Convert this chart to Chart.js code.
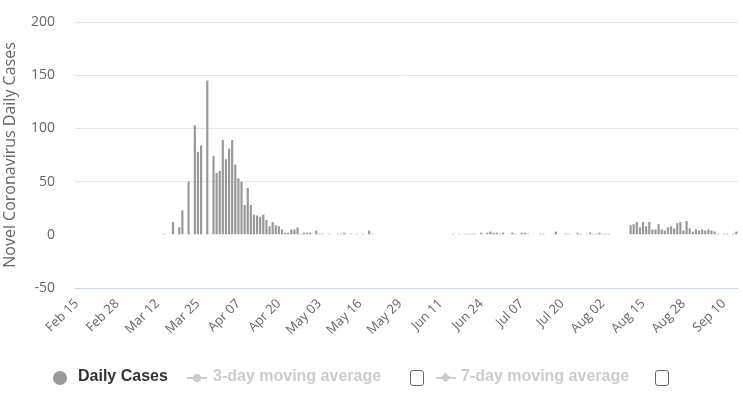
<!DOCTYPE html>
<html>
<head>
<meta charset="utf-8">
<script src="https://cdn.jsdelivr.net/npm/chart.js@4.4.0/dist/chart.umd.min.js"></script>
<style>
    html, body { margin: 0; padding: 0; background: #fff; }
    #wrap { position: relative; width: 743px; height: 399px; overflow: hidden; }
    #chart { position: absolute; left: 0; top: 0; }
    .lg { position: absolute; top: 367px; height: 22px; line-height: 22px; white-space: nowrap;
          font: bold 16px "Liberation Sans", Arial, sans-serif; }
    .lg.on { color: #333333; }
    .lg.off { color: #cccccc; }
    .dot { position: absolute; left: 53px; top: 371px; width: 14px; height: 14px; border-radius: 50%; background: #999999; }
    .line { position: absolute; top: 377px; height: 2px; background: #cccccc; }
    .circ { position: absolute; top: 374px; width: 8px; height: 8px; border-radius: 50%; background: #cccccc; }
    .diam { position: absolute; top: 374px; width: 7px; height: 7px; background: #cccccc; transform: rotate(45deg); }
    .box { position: absolute; top: 370px; width: 12px; height: 14px; border: 1px solid #666666; border-radius: 3px; background: #fff; }
</style>
</head>
<body>
<div id="wrap">
    <canvas id="chart" width="743" height="399"></canvas>

    <div class="dot"></div>
    <div class="lg on" style="left:78px">Daily Cases</div>

    <div class="line" style="left:187px; width:20px"></div>
    <div class="circ" style="left:193px"></div>
    <div class="lg off" style="left:213px">3-day moving average</div>
    <div class="box" style="left:410px"></div>

    <div class="line" style="left:436px; width:20px"></div>
    <div class="diam" style="left:442px"></div>
    <div class="lg off" style="left:461px">7-day moving average</div>
    <div class="box" style="left:655px"></div>
</div>
<script>
// daily values from Feb 15 2020, one per day
const dailyCases = [
    0, 0, 0, 0, 0, 0, 0, 0, 0, 0,
    0, 0, 0, 0, 0, 0, 0, 0, 0, 0,
    0, 0, 0, 0, 0, 0, 0, 0, 1, 0,
    0, 12, 0, 7, 23, 0, 50, 0, 103, 78,
    84, 0, 145, 0, 74, 58, 60, 89, 71, 81,
    89, 66, 53, 50, 28, 44, 28, 19, 18, 17,
    19, 14, 8, 12, 9, 8, 5, 2, 2, 5,
    5, 7, 1, 2, 2, 2, 0, 4, 1, 1,
    0, 1, 0, 0, 1, 1, 2, 0, 1, 0,
    1, 0, 1, 0, 4, 1, 0, 0, 0, 0,
    0, 0, 0, 0, 0, 0, 0, 0, 0, 0,
    0, 0, 0, 0, 0, 0, 0, 0, 0, 0,
    0, 1, 0, 1, 0, 1, 1, 1, 1, 0,
    2, 0, 2, 3, 2, 2, 1, 2, 0, 0,
    2, 1, 0, 2, 2, 1, 0, 0, 0, 1,
    1, 0, 0, 0, 3, 0, 0, 1, 1, 0,
    0, 2, 1, 0, 1, 2, 1, 1, 2, 1,
    1, 1, 0, 0, 0, 0, 0, 0, 9, 10,
    12, 7, 12, 8, 12, 5, 5, 10, 5, 4,
    7, 8, 6, 11, 12, 4, 13, 6, 3, 5,
    4, 5, 4, 5, 4, 3, 1, 0, 1, 1,
    0, 1, 3
];

const tickLabels = ['Feb 15', 'Feb 28', 'Mar 12', 'Mar 25', 'Apr 07', 'Apr 20', 'May 03', 'May 16',
    'May 29', 'Jun 11', 'Jun 24', 'Jul 07', 'Jul 20', 'Aug 02', 'Aug 15', 'Aug 28', 'Sep 10'];

const monthNames = ['Jan', 'Feb', 'Mar', 'Apr', 'May', 'Jun', 'Jul', 'Aug', 'Sep', 'Oct', 'Nov', 'Dec'];

// one category per day
const categories = [];
for (let i = 0; i < dailyCases.length; i++) {
    const d = new Date(2020, 1, 15 + i);
    categories.push(monthNames[d.getMonth()] + ' ' + String(d.getDate()).padStart(2, '0'));
}

const ctx = document.getElementById('chart').getContext('2d');
const chart = new Chart(ctx, {
    type: 'bar',
    data: {
        labels: categories,
        datasets: [{
            label: 'Daily Cases',
            data: dailyCases,
            backgroundColor: '#999999',
            barPercentage: 0.7,
            categoryPercentage: 1.0
        }]
    },
    options: {
        responsive: false,
        animation: false,
        layout: { padding: { top: 22, right: 1, left: 0, bottom: 0 } },
        plugins: {
            legend: { display: false },
            tooltip: { enabled: false }
        },
        scales: {
            x: {
                grid: { display: false, drawTicks: false },
                border: { color: '#ccd6eb' },
                ticks: {
                    autoSkip: false,
                    minRotation: 45,
                    maxRotation: 45,
                    padding: 8,
                    color: '#666666',
                    font: { family: 'Open Sans', size: 13 },
                    callback: function(value, index) {
                        return tickLabels.includes(categories[index]) ? categories[index] : null;
                    }
                },
                afterFit: function(scale) { scale.height = 111; }
            },
            y: {
                min: -50,
                max: 200,
                border: { display: false },
                grid: {
                    drawTicks: true,
                    tickLength: 20,
                    tickColor: 'rgba(0,0,0,0)',
                    color: c => c.tick.value === 0 ? 'rgba(0,0,0,0)' : '#e6e6e6'
                },
                ticks: {
                    stepSize: 50,
                    padding: 0,
                    color: '#666666',
                    font: { family: 'Open Sans', size: 14 }
                },
                title: {
                    display: true,
                    text: 'Novel Coronavirus Daily Cases',
                    color: '#666666',
                    padding: { top: 1, bottom: 0 },
                    font: { family: 'Open Sans', size: 16 }
                },
                afterFit: function(scale) { scale.width = 75; }
            }
        }
    }
});
</script>
</body>
</html>
